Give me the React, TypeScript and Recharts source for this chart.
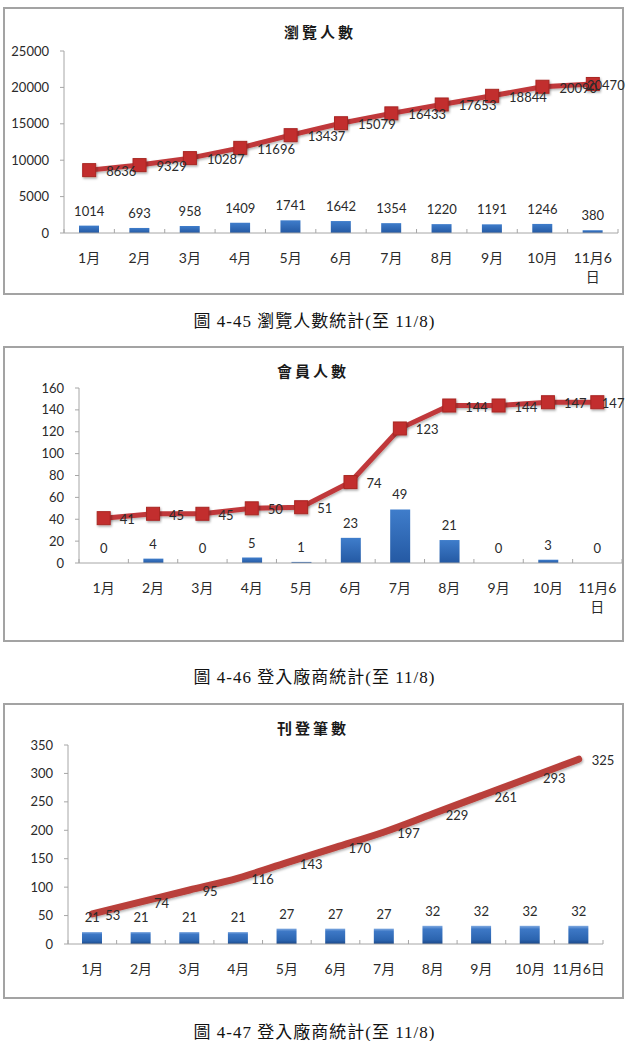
import React from 'react';
import { ComposedChart, Bar, Line, XAxis, YAxis, LabelList } from 'recharts';

const months = ['1月', '2月', '3月', '4月', '5月', '6月', '7月', '8月', '9月', '10月', '11月6日'];
const browseMonthly = [1014, 693, 958, 1409, 1741, 1642, 1354, 1220, 1191, 1246, 380];
const browseCumulative = [8636, 9329, 10287, 11696, 13437, 15079, 16433, 17653, 18844, 20090, 20470];
const memberMonthly = [0, 4, 0, 5, 1, 23, 49, 21, 0, 3, 0];
const memberCumulative = [41, 45, 45, 50, 51, 74, 123, 144, 144, 147, 147];
const postMonthly = [21, 21, 21, 21, 27, 27, 27, 32, 32, 32, 32];
const postCumulative = [53, 74, 95, 116, 143, 170, 197, 229, 261, 293, 325];
const browseTicks = [0, 5000, 10000, 15000, 20000, 25000];
const memberTicks = [0, 20, 40, 60, 80, 100, 120, 140, 160];
const postTicks = [0, 50, 100, 150, 200, 250, 300, 350];

const titles = ['瀏覽人數', '會員人數', '刊登筆數'];
const captions = ['圖 4-45 瀏覽人數統計(至 11/8)', '圖 4-46 登入廠商統計(至 11/8)', '圖 4-47 登入廠商統計(至 11/8)'];

const browseData = months.map((m, i) => ({ m, bar: browseMonthly[i], line: browseCumulative[i] }));
const memberData = months.map((m, i) => ({ m, bar: memberMonthly[i], line: memberCumulative[i] }));
const postData = months.map((m, i) => ({ m, bar: postMonthly[i], line: postCumulative[i] }));

const NUM_FONT = "Lato, 'Noto Sans CJK TC', sans-serif";
const AXIS_COLOR = '#A6A6A6';
const TEXT_COLOR = '#2a2a2a';

const makeXTick = (wrap: boolean) => (props: any) => {
  const { x, y, payload, index } = props;
  const label = String(payload.value);
  const half = payload.offset != null && payload.offset > 0 ? payload.offset : 25;
  const lines = wrap && label.length > 4 ? [label.slice(0, -1), label.slice(-1)] : [label];
  return (
    <g>
      <line x1={x - half} x2={x - half} y1={y - 4} y2={y} stroke={AXIS_COLOR} strokeWidth={1} />
      {index === months.length - 1 && (
        <line x1={x + half} x2={x + half} y1={y - 4} y2={y} stroke={AXIS_COLOR} strokeWidth={1} />
      )}
      <text x={x} y={y + 30} textAnchor="middle" fontSize={14} fontFamily={NUM_FONT} fill={TEXT_COLOR}>
        {lines.map((l, i) => (
          <tspan key={i} x={x} dy={i === 0 ? 0 : 19}>
            {l}
          </tspan>
        ))}
      </text>
    </g>
  );
};

const SquareDot = (props: any) => {
  const { cx, cy } = props;
  if (cx == null || cy == null) return null;
  return (
    <rect
      x={cx - 6.5}
      y={cy - 6.5}
      width={13}
      height={13}
      fill="#C22F2D"
      stroke="#A92624"
      strokeWidth={1}
      filter="url(#dotShadow)"
    />
  );
};

const makeLineLabel = (offset: number, limit: number) => (props: any) => {
  const { x, y, value } = props;
  if (x == null || y == null) return null;
  const text = String(value);
  const w = text.length * 7.4;
  const start = Math.min(x + offset, limit - w);
  return (
    <text x={start} y={y + 1} dominantBaseline="central" fontSize={13} fontFamily={NUM_FONT} fill={TEXT_COLOR}>
      {text}
    </text>
  );
};

const BarValueLabel = (props: any) => {
  const { x, y, value } = props;
  if (x == null || y == null) return null;
  return (
    <text x={x} y={y - 15} textAnchor="middle" dominantBaseline="central" fontSize={13} fontFamily={NUM_FONT} fill={TEXT_COLOR}>
      {String(value)}
    </text>
  );
};

type ChartProps = {
  data: any[];
  top: number;
  height: number;
  margin: { top: number; right: number; bottom: number; left: number };
  domain: [number, number];
  ticks: number[];
  wrap: boolean;
  smooth: boolean;
  labelOffset: number;
  barFill: string;
};

const Chart = ({ data, top, height, margin, domain, ticks, wrap, smooth, labelOffset, barFill }: ChartProps) => (
  <div style={{ position: 'absolute', left: 0, top, width: 629, height }}>
    <ComposedChart width={629} height={height} data={data} margin={margin}>
      <XAxis
        dataKey="m"
        axisLine={{ stroke: AXIS_COLOR, strokeWidth: 1 }}
        tickLine={false}
        tickSize={0}
        tickMargin={0}
        height={40}
        interval={0}
        tick={makeXTick(wrap)}
      />
      <YAxis
        domain={domain}
        ticks={ticks}
        width={50}
        axisLine={{ stroke: AXIS_COLOR, strokeWidth: 1 }}
        tickLine={{ stroke: AXIS_COLOR }}
        tickSize={4}
        tickMargin={11}
        interval={0}
        tick={{ fontSize: 13, fontFamily: NUM_FONT, fill: TEXT_COLOR }}
      />
      <Bar dataKey="bar" barSize={20} fill={barFill} isAnimationActive={false} />
      <Line
        dataKey="bar"
        stroke="none"
        dot={false}
        activeDot={false}
        legendType="none"
        isAnimationActive={false}
      >
        <LabelList dataKey="bar" content={BarValueLabel} />
      </Line>
      <Line
        dataKey="line"
        type={smooth ? 'monotone' : 'linear'}
        stroke={smooth ? '#B9403B' : '#C0393A'}
        strokeWidth={smooth ? 7 : 5}
        strokeLinecap="round"
        dot={smooth ? false : <SquareDot />}
        activeDot={false}
        filter="url(#lineShadow)"
        isAnimationActive={false}
      >
        <LabelList dataKey="line" content={makeLineLabel(labelOffset, 624)} />
      </Line>
    </ComposedChart>
  </div>
);

const boxStyle = (top: number, height: number): React.CSSProperties => ({
  position: 'absolute',
  left: 3,
  top,
  width: 621,
  height,
  boxSizing: 'border-box',
  border: '2px solid #A3A3A3',
  background: '#fff',
});

const titleStyle = (top: number, cx: number): React.CSSProperties => ({
  position: 'absolute',
  left: cx - 100,
  top,
  width: 200,
  textAlign: 'center',
  fontFamily: "'Noto Sans CJK TC', sans-serif",
  fontWeight: 700,
  fontSize: 15,
  letterSpacing: 3,
  lineHeight: '20px',
  color: '#1a1a1a',
});

const captionStyle = (top: number): React.CSSProperties => ({
  position: 'absolute',
  left: 0,
  top,
  width: 629,
  textAlign: 'center',
  fontFamily: "'Liberation Serif', 'Noto Sans CJK TC', serif",
  fontSize: 17,
  letterSpacing: 1,
  lineHeight: '22px',
  color: '#111',
});

export default function App() {
  return (
    <div style={{ position: 'absolute', left: 0, top: 0, width: 629, height: 1041, background: '#fff', overflow: 'hidden' }}>
      <svg width={0} height={0} style={{ position: 'absolute' }}>
        <defs>
          <linearGradient id="barFlat" x1="0" y1="0" x2="0" y2="1">
            <stop offset="0%" stopColor="#3F7DCB" />
            <stop offset="100%" stopColor="#2459A3" />
          </linearGradient>
          <linearGradient id="barBevel" x1="0" y1="0" x2="0" y2="1">
            <stop offset="0%" stopColor="#7FA9E0" />
            <stop offset="18%" stopColor="#3D78C6" />
            <stop offset="75%" stopColor="#2C65B0" />
            <stop offset="100%" stopColor="#1B4787" />
          </linearGradient>
          <filter id="dotShadow" x="-50%" y="-50%" width="200%" height="200%">
            <feDropShadow dx="1" dy="1.5" stdDeviation="1.2" floodColor="#000" floodOpacity="0.35" />
          </filter>
          <filter id="lineShadow" x="-10%" y="-10%" width="120%" height="130%">
            <feDropShadow dx="1" dy="1.5" stdDeviation="1.2" floodColor="#000" floodOpacity="0.3" />
          </filter>
        </defs>
      </svg>

      <div style={boxStyle(7, 288)} />
      <div style={boxStyle(346, 296)} />
      <div style={boxStyle(703, 296)} />

      <div style={titleStyle(22, 320)}>{titles[0]}</div>
      <div style={titleStyle(361, 313)}>{titles[1]}</div>
      <div style={titleStyle(718, 313)}>{titles[2]}</div>

      <Chart
        data={browseData}
        top={0}
        height={300}
        margin={{ top: 51, right: 11, bottom: 27, left: 14 }}
        domain={[0, 25000]}
        ticks={browseTicks}
        wrap={true}
        smooth={false}
        labelOffset={17}
        barFill="url(#barFlat)"
      />
      <Chart
        data={memberData}
        top={340}
        height={310}
        margin={{ top: 48, right: 7, bottom: 47, left: 29 }}
        domain={[0, 160]}
        ticks={memberTicks}
        wrap={true}
        smooth={false}
        labelOffset={16}
        barFill="url(#barFlat)"
      />
      <Chart
        data={postData}
        top={700}
        height={300}
        margin={{ top: 45, right: 26, bottom: 16, left: 18 }}
        domain={[0, 350]}
        ticks={postTicks}
        wrap={false}
        smooth={true}
        labelOffset={13}
        barFill="url(#barBevel)"
      />

      <div style={captionStyle(311)}>{captions[0]}</div>
      <div style={captionStyle(667)}>{captions[1]}</div>
      <div style={captionStyle(1022)}>{captions[2]}</div>
    </div>
  );
}
